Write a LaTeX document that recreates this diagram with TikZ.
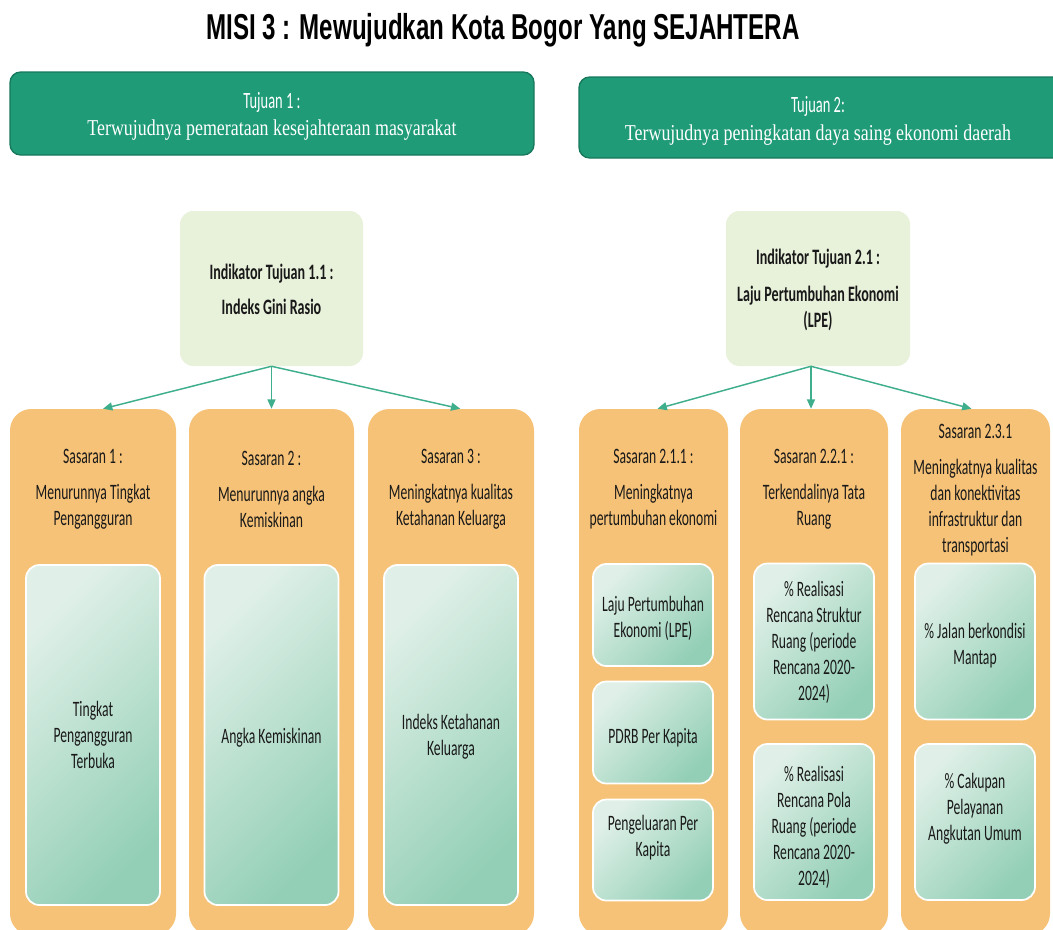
\documentclass[tikz,border=0pt]{standalone}
\usepackage{fontspec}
\usetikzlibrary{arrows.meta,positioning}
\newfontfamily\calf[FakeStretch=0.62]{Carlito}
\newfontfamily\calbf[FakeStretch=0.64]{Carlito}
\newfontfamily\titlef[FakeStretch=0.67]{Liberation Sans}
\newfontfamily\serf[FakeStretch=0.79]{Liberation Serif}
\definecolor{tealbox}{HTML}{1F9B77}
\definecolor{tealedge}{HTML}{17785C}
\definecolor{indfill}{HTML}{E8F1DA}
\definecolor{orangebox}{HTML}{F6C277}
\definecolor{innerlight}{HTML}{E0F0E8}
\definecolor{innerdark}{HTML}{93CFB6}
\definecolor{arrowc}{HTML}{3FAE8D}
\tikzset{
  tujuanbox/.style={draw=tealedge, line width=1pt, fill=tealbox, rounded corners=8pt, inner sep=0pt},
  indbox/.style={fill=indfill, rounded corners=10pt, inner sep=0pt},
  sasbox/.style={fill=orangebox, rounded corners=16pt, inner sep=0pt},
  innerbox/.style={draw=white, line width=1.3pt, top color=innerlight, bottom color=innerdark, shading angle=45, rounded corners=10pt, inner sep=0pt},
  txt/.style={font=\calf\fontsize{16.5pt}{19.5pt}\selectfont, align=center, inner sep=0pt, text=black!90},
  btxt/.style={font=\calbf\bfseries\fontsize{16.5pt}{19.5pt}\selectfont, align=center, inner sep=0pt, text=black!90},
  conn/.style={draw=arrowc, line width=1.1pt, -{Triangle[length=7pt,width=6pt]}}
}
\begin{document}
\begin{tikzpicture}[x=0.75pt,y=-0.75pt]
\useasboundingbox (0,0) rectangle (1053,929);
% title
\node[font=\titlef\bfseries\fontsize{27pt}{30pt}\selectfont, inner sep=0pt] (title) at (503,30) {MISI 3 : Mewujudkan Kota Bogor Yang SEJAHTERA};
% tujuan boxes
\node[tujuanbox, minimum width=393pt, minimum height=62.25pt] (t1) at (272,113.5) {};
\node[tujuanbox, minimum width=363pt, minimum height=60.75pt] (t2) at (821,117.5) {};
\node[font=\calf\fontsize{17.5pt}{19pt}\selectfont, text=white, inner sep=0pt] (t1a) at (272,102) {Tujuan 1 :};
\node[font=\serf\fontsize{17pt}{20pt}\selectfont, text=white, inner sep=0pt] (t1b) at (272,130) {Terwujudnya pemerataan kesejahteraan masyarakat};
\node[font=\calf\fontsize{17.5pt}{19pt}\selectfont, text=white, inner sep=0pt] (t2a) at (818,106) {Tujuan 2:};
\node[font=\serf\fontsize{17pt}{20pt}\selectfont, text=white, inner sep=0pt] (t2b) at (818,135) {Terwujudnya peningkatan daya saing ekonomi daerah};
% indikator boxes
\node[indbox, minimum width=137.25pt, minimum height=116.25pt] (i1) at (271.5,288.5) {};
\node[indbox, minimum width=138pt, minimum height=116.25pt] (i2) at (818,288.5) {};
\node[btxt] (i1t) at (271.5,289.5) {Indikator Tujuan 1.1 :\\[7pt]Indeks Gini Rasio};
\node[btxt] (i2t) at (818,290) {Indikator Tujuan 2.1 :\\[8pt]Laju Pertumbuhan Ekonomi\\(LPE)};
% sasaran boxes
\node[sasbox, minimum width=124.5pt, minimum height=394.5pt] (s1) at (93,672) {};
\node[sasbox, minimum width=123.75pt, minimum height=394.5pt] (s2) at (271.5,672) {};
\node[sasbox, minimum width=124.5pt, minimum height=394.5pt] (s3) at (451,672) {};
\node[sasbox, minimum width=111.75pt, minimum height=394.5pt] (s4) at (653.5,672) {};
\node[sasbox, minimum width=111pt, minimum height=394.5pt] (s5) at (814,672) {};
\node[sasbox, minimum width=111.75pt, minimum height=394.5pt] (s6) at (975.5,672) {};
% sasaran texts
\node[txt] (s1t) at (93,489) {Sasaran 1 :\\[7.5pt]Menurunnya Tingkat\\Pengangguran};
\node[txt] (s2t) at (271.5,489) {Sasaran 2 :\\[7.5pt]Menurunnya angka\\Kemiskinan};
\node[txt] (s3t) at (451,489) {Sasaran 3 :\\[7.5pt]Meningkatnya kualitas\\Ketahanan Keluarga};
\node[txt] (s4t) at (653.5,489) {Sasaran 2.1.1 :\\[7.5pt]Meningkatnya\\pertumbuhan ekonomi};
\node[txt] (s5t) at (814,489) {Sasaran 2.2.1 :\\[7.5pt]Terkendalinya Tata\\Ruang};
\node[txt] (s6t) at (975.5,490) {Sasaran 2.3.1\\[7.5pt]Meningkatnya kualitas\\dan konektivitas\\infrastruktur dan\\transportasi};
% inner boxes left
\node[innerbox, minimum width=100.5pt, minimum height=255pt] (b1) at (93,735) {};
\node[innerbox, minimum width=100.5pt, minimum height=255pt] (b2) at (271.5,735) {};
\node[innerbox, minimum width=100.5pt, minimum height=255pt] (b3) at (451,735) {};
\node[txt] (b1t) at (93,735) {Tingkat\\Pengangguran\\Terbuka};
\node[txt] (b2t) at (271.5,738) {Angka Kemiskinan};
\node[txt] (b3t) at (451,737) {Indeks Ketahanan\\Keluarga};
% inner boxes right
\node[innerbox, minimum width=90pt, minimum height=76.5pt] (c1) at (653,615) {};
\node[innerbox, minimum width=90pt, minimum height=76.5pt] (c2) at (653,732.5) {};
\node[innerbox, minimum width=90pt, minimum height=75.75pt] (c3) at (653,850) {};
\node[txt] (c1t) at (653,618) {Laju Pertumbuhan\\Ekonomi (LPE)};
\node[txt] (c2t) at (653,738) {PDRB Per Kapita};
\node[txt] (c3t) at (653,838) {Pengeluaran Per\\Kapita};
\node[innerbox, minimum width=90pt, minimum height=117pt] (d1) at (814,641.5) {};
\node[innerbox, minimum width=90pt, minimum height=117pt] (d2) at (814,822) {};
\node[txt] (d1t) at (814,642.5) {\% Realisasi\\Rencana Struktur\\Ruang (periode\\Rencana 2020-\\2024)};
\node[txt] (d2t) at (814,827) {\% Realisasi\\Rencana Pola\\Ruang (periode\\Rencana 2020-\\2024)};
\node[innerbox, minimum width=90pt, minimum height=117pt] (e1) at (975,641.5) {};
\node[innerbox, minimum width=90pt, minimum height=117pt] (e2) at (975,822) {};
\node[txt] (e1t) at (975,646) {\% Jalan berkondisi\\Mantap};
\node[txt] (e2t) at (975,808.5) {\% Cakupan\\Pelayanan\\Angkutan Umum};
% connectors
\draw[conn] (i1.south) -- ([xshift=7.5pt]s1.north);
\draw[conn] (i1.south) -- (s2.north);
\draw[conn] (i1.south) -- ([xshift=7pt]s3.north);
\draw[conn] ([xshift=-5.25pt]i2.south) -- ([xshift=3pt]s4.north);
\draw[conn] ([xshift=-5.25pt]i2.south) -- ([xshift=-2.25pt]s5.north);
\draw[conn] ([xshift=-5.25pt]i2.south) -- ([xshift=-3pt]s6.north);
\end{tikzpicture}
\end{document}
